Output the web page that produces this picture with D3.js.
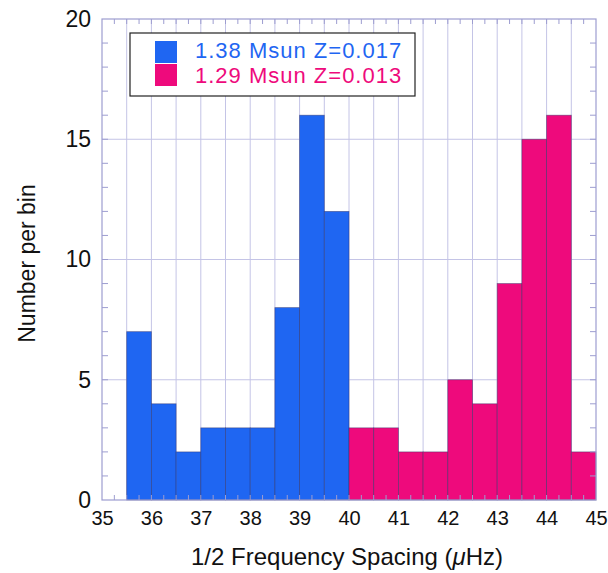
<!DOCTYPE html>
<html>
<head>
<meta charset="utf-8">
<script src="https://cdn.jsdelivr.net/npm/d3@7"></script>
<style>
  body { margin: 0; background: #fff; }
  text { font-family: "Liberation Sans", Arial, sans-serif; }
</style>
</head>
<body>
<div id="chart"></div>
<script>
// frame constants
const FRAME_WIDTH = 608;
const FRAME_HEIGHT = 573;
const MARGINS = {left: 102, right: 12, top: 19, bottom: 73};
const VIS_WIDTH = FRAME_WIDTH - MARGINS.left - MARGINS.right;
const VIS_HEIGHT = FRAME_HEIGHT - MARGINS.top - MARGINS.bottom;

// data: bin start, count (bin width 0.5)
const blueBins = [35.5, 36, 36.5, 37, 37.5, 38, 38.5, 39, 39.5];
const blueCounts = [7, 4, 2, 3, 3, 3, 8, 16, 12];
const pinkBins = [40, 40.5, 41, 41.5, 42, 42.5, 43, 43.5, 44, 44.5];
const pinkCounts = [3, 3, 2, 2, 5, 4, 9, 15, 16, 2];
const seriesNames = ["1.38 Msun Z=0.017", "1.29 Msun Z=0.013"];
const seriesColors = ["#1f66f2", "#ee0a7c"];
const xTicks = [35, 36, 37, 38, 39, 40, 41, 42, 43, 44, 45];
const yTicks = [0, 5, 10, 15, 20];
const BIN_W = 0.5;

const FRAME = d3.select("#chart")
  .append("svg")
  .attr("width", FRAME_WIDTH)
  .attr("height", FRAME_HEIGHT);

const X_SCALE = d3.scaleLinear().domain([35, 45]).range([0, VIS_WIDTH]);
const Y_SCALE = d3.scaleLinear().domain([0, 20]).range([VIS_HEIGHT, 0]);

const g = FRAME.append("g")
  .attr("transform", `translate(${MARGINS.left},${MARGINS.top})`);

const GRID = "#c4c4e6";
const AXIS = "#9d9dd0";

// vertical grid every 0.5
g.selectAll(".vgrid")
  .data(d3.range(35.5, 45, 0.5))
  .enter().append("line")
  .attr("x1", d => X_SCALE(d)).attr("x2", d => X_SCALE(d))
  .attr("y1", 0).attr("y2", VIS_HEIGHT)
  .style("stroke", GRID).style("stroke-width", 1);

// horizontal grid at 5,10,15
g.selectAll(".hgrid")
  .data([5, 10, 15])
  .enter().append("line")
  .attr("x1", 0).attr("x2", VIS_WIDTH)
  .attr("y1", d => Y_SCALE(d)).attr("y2", d => Y_SCALE(d))
  .style("stroke", GRID).style("stroke-width", 1);

// bars
function drawBars(bins, counts, color) {
  g.selectAll(null)
    .data(bins.map((b, i) => [b, counts[i]]))
    .enter().append("rect")
    .attr("x", d => X_SCALE(d[0]))
    .attr("y", d => Y_SCALE(d[1]))
    .attr("width", d => X_SCALE(d[0] + BIN_W) - X_SCALE(d[0]))
    .attr("height", d => VIS_HEIGHT - Y_SCALE(d[1]))
    .style("fill", color)
    .style("stroke", "#333366")
    .style("stroke-opacity", 0.55)
    .style("stroke-width", 0.8);
}
drawBars(blueBins, blueCounts, seriesColors[0]);
drawBars(pinkBins, pinkCounts, seriesColors[1]);

// minor ticks (inward) on all four sides
const xMinor = d3.range(35.25, 45, 0.25);
const yMinor = d3.range(1, 20, 1);
g.selectAll(null).data(xMinor).enter().append("line")
  .attr("x1", d => X_SCALE(d)).attr("x2", d => X_SCALE(d))
  .attr("y1", VIS_HEIGHT).attr("y2", VIS_HEIGHT - 5)
  .style("stroke", AXIS);
g.selectAll(null).data(xMinor).enter().append("line")
  .attr("x1", d => X_SCALE(d)).attr("x2", d => X_SCALE(d))
  .attr("y1", 0).attr("y2", 5)
  .style("stroke", AXIS);
g.selectAll(null).data(yMinor).enter().append("line")
  .attr("x1", 0).attr("x2", 6)
  .attr("y1", d => Y_SCALE(d)).attr("y2", d => Y_SCALE(d))
  .style("stroke", AXIS);
g.selectAll(null).data(yMinor).enter().append("line")
  .attr("x1", VIS_WIDTH).attr("x2", VIS_WIDTH - 6)
  .attr("y1", d => Y_SCALE(d)).attr("y2", d => Y_SCALE(d))
  .style("stroke", AXIS);

// frame
g.append("rect")
  .attr("x", 0).attr("y", 0)
  .attr("width", VIS_WIDTH).attr("height", VIS_HEIGHT)
  .style("fill", "none").style("stroke", AXIS).style("stroke-width", 1.2);

// axes (labels only)
const xAxis = g.append("g")
  .attr("transform", `translate(0,${VIS_HEIGHT})`)
  .call(d3.axisBottom(X_SCALE).tickValues(xTicks).tickSize(0).tickPadding(11));
xAxis.select(".domain").remove();
xAxis.selectAll("text").style("font-size", "20px").style("fill", "#111")
  .style("font-family", "'Liberation Sans', Arial, sans-serif");

const yAxis = g.append("g")
  .call(d3.axisLeft(Y_SCALE).tickValues(yTicks).tickSize(0).tickPadding(11));
yAxis.select(".domain").remove();
yAxis.selectAll("text").style("font-size", "23px").style("fill", "#111")
  .style("font-family", "'Liberation Sans', Arial, sans-serif");

// axis titles
const xTitle = FRAME.append("text")
  .attr("x", MARGINS.left + VIS_WIDTH / 2 - 2)
  .attr("y", 565)
  .attr("text-anchor", "middle")
  .style("font-size", "24px").style("fill", "#111");
xTitle.append("tspan").text("1/2 Frequency Spacing (");
xTitle.append("tspan").style("font-style", "italic").text("\u03BC");
xTitle.append("tspan").text("Hz)");

FRAME.append("text")
  .attr("transform", `translate(35,${MARGINS.top + VIS_HEIGHT / 2 + 4}) rotate(-90)`)
  .attr("text-anchor", "middle")
  .style("font-size", "23px").style("fill", "#111")
  .text("Number per bin");

// legend
const legend = FRAME.append("g").attr("transform", "translate(130,33)");
legend.append("rect")
  .attr("width", 285).attr("height", 63)
  .style("fill", "#fff").style("stroke", "#222").style("stroke-width", 1.2);
seriesNames.forEach((name, i) => {
  legend.append("rect")
    .attr("x", 25).attr("y", 8 + i * 23)
    .attr("width", 22).attr("height", 22)
    .style("fill", seriesColors[i]);
  legend.append("text")
    .attr("x", 65).attr("y", 25 + i * 25)
    .style("font-size", "22px")
    .style("letter-spacing", "1px")
    .style("fill", seriesColors[i])
    .text(name);
});
</script>
</body>
</html>
